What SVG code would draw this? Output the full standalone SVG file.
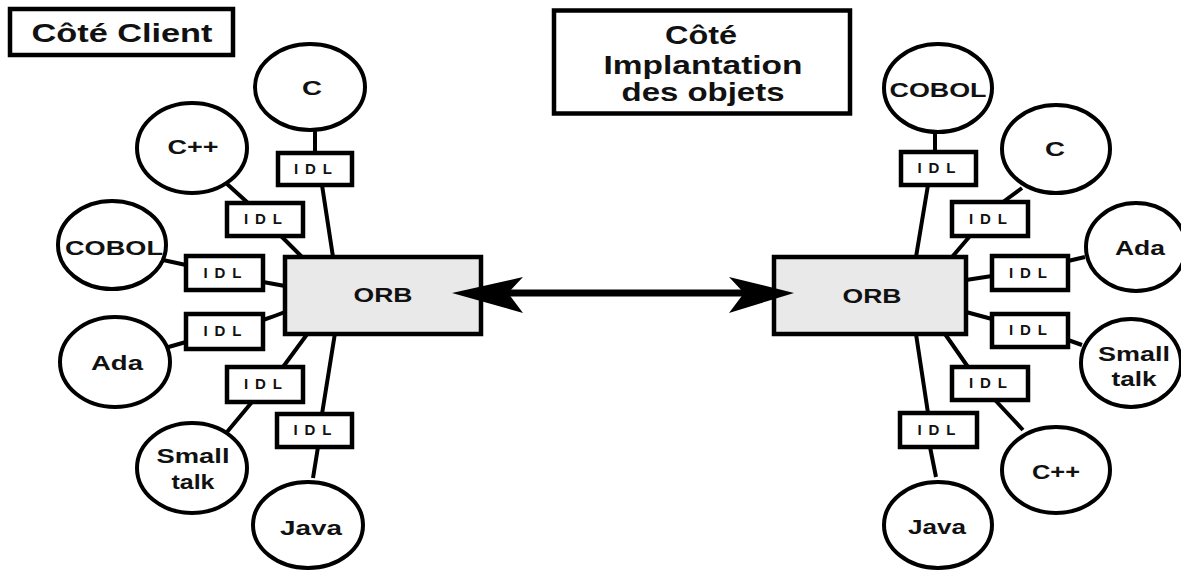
<svg xmlns="http://www.w3.org/2000/svg" width="1181" height="570" viewBox="0 0 1181 570">
<style>
.box{fill:#fff;stroke:#000;stroke-width:4.5}
.orb{fill:#e9e9e9;stroke:#000;stroke-width:4.5}
.el{fill:#fff;stroke:#000;stroke-width:4}
.ln{fill:none;stroke:#000;stroke-width:4;stroke-linecap:butt}
.t{font-family:"Liberation Sans",Arial,sans-serif;font-weight:bold;fill:#111;text-anchor:middle}
.title{font-size:25px}
.title2{font-size:26px}
.lab{font-size:21px}
.idl{font-size:15px;letter-spacing:4px}
.orbt{font-size:20px}
</style>
<g id="connectors">
<path class="ln" d="M315,128 L315,153 M322,185 L333,257"/>
<path class="ln" d="M226,183 L248,203 M281,236 L302,257"/>
<path class="ln" d="M163,260 L186,265 M263,282 L285,286"/>
<path class="ln" d="M165,348 L186,342 M263,320 Q275,316 285,312"/>
<path class="ln" d="M308,333 L283,367 M252,402 L227,432"/>
<path class="ln" d="M335,333 L322,414 M318,447 L313,478"/>
<path class="ln" d="M935,130 L935,152 M928,185 L916,257"/>
<path class="ln" d="M1022,188 L1003,202 M970,236 L952,257"/>
<path class="ln" d="M966,280 L992,276 M1068,261 L1085,257"/>
<path class="ln" d="M966,312 L992,319 M1068,340 L1082,345"/>
<path class="ln" d="M945,334 L968,367 M995,400 L1023,430"/>
<path class="ln" d="M916,334 L928,413 M930,447 L936,477"/>
</g>
<g id="title-client">
<rect class="box" x="10" y="9" width="223" height="46"/>
<text class="t title" x="122" y="42" textLength="181" lengthAdjust="spacingAndGlyphs">Côté Client</text>
</g>
<g id="title-impl">
<rect class="box" x="554" y="10.5" width="296" height="103"/>
<text class="t title2" x="701" y="44" textLength="72" lengthAdjust="spacingAndGlyphs">Côté</text>
<text class="t title2" x="703" y="74" textLength="199" lengthAdjust="spacingAndGlyphs">Implantation</text>
<text class="t title2" x="703" y="101" textLength="163" lengthAdjust="spacingAndGlyphs">des objets</text>
</g>
<g id="orb-left">
<rect class="orb" x="285" y="257" width="196" height="77"/>
<text class="t orbt" x="383" y="302" textLength="59" lengthAdjust="spacingAndGlyphs">ORB</text>
</g>
<g id="orb-right">
<rect class="orb" x="774" y="257" width="192" height="77"/>
<text class="t orbt" x="872" y="303" textLength="59" lengthAdjust="spacingAndGlyphs">ORB</text>
</g>
<g id="arrow">
<line x1="500" y1="293" x2="755" y2="293" stroke="#000" stroke-width="7"/>
<path d="M452,293 L523,277 L508,293 L523,313 Z" fill="#000"/>
<path d="M794,293 L729,277 L744,293 L729,313 Z" fill="#000"/>
</g>
<g id="l-c"><ellipse class="el" cx="310" cy="87" rx="55" ry="43"/><text class="t lab" x="312" y="95" textLength="20" lengthAdjust="spacingAndGlyphs">C</text></g>
<g id="l-cpp"><ellipse class="el" cx="192" cy="148" rx="55" ry="45"/><text class="t lab" x="193" y="154" textLength="51" lengthAdjust="spacingAndGlyphs">C++</text></g>
<g id="l-cobol"><ellipse class="el" cx="112" cy="245" rx="54" ry="44"/><text class="t lab" x="114" y="255" textLength="98" lengthAdjust="spacingAndGlyphs">COBOL</text></g>
<g id="l-ada"><ellipse class="el" cx="115" cy="362" rx="55" ry="45"/><text class="t lab" x="117" y="370" textLength="52" lengthAdjust="spacingAndGlyphs">Ada</text></g>
<g id="l-small"><ellipse class="el" cx="192" cy="468" rx="55" ry="45"/><text class="t lab" x="193" y="463" textLength="73" lengthAdjust="spacingAndGlyphs">Small</text><text class="t lab" x="193" y="489" textLength="43" lengthAdjust="spacingAndGlyphs">talk</text></g>
<g id="l-java"><ellipse class="el" cx="308" cy="525" rx="55" ry="43"/><text class="t lab" x="311" y="535" textLength="62" lengthAdjust="spacingAndGlyphs">Java</text></g>
<g id="r-cobol"><ellipse class="el" cx="938" cy="88" rx="54" ry="44"/><text class="t lab" x="938" y="97" textLength="97" lengthAdjust="spacingAndGlyphs">COBOL</text></g>
<g id="r-c"><ellipse class="el" cx="1056" cy="149" rx="54" ry="44"/><text class="t lab" x="1055" y="156" textLength="20" lengthAdjust="spacingAndGlyphs">C</text></g>
<g id="r-ada"><ellipse class="el" cx="1136" cy="247" rx="50" ry="44"/><text class="t lab" x="1140" y="255" textLength="50" lengthAdjust="spacingAndGlyphs">Ada</text></g>
<g id="r-small"><ellipse class="el" cx="1131" cy="363" rx="50" ry="44"/><text class="t lab" x="1134" y="361" textLength="72" lengthAdjust="spacingAndGlyphs">Small</text><text class="t lab" x="1134" y="386" textLength="45" lengthAdjust="spacingAndGlyphs">talk</text></g>
<g id="r-cpp"><ellipse class="el" cx="1056" cy="470" rx="54" ry="43"/><text class="t lab" x="1056" y="479" textLength="48" lengthAdjust="spacingAndGlyphs">C++</text></g>
<g id="r-java"><ellipse class="el" cx="938" cy="525" rx="54" ry="43"/><text class="t lab" x="937" y="534" textLength="58" lengthAdjust="spacingAndGlyphs">Java</text></g>
<g id="idl-l-c"><rect class="box" x="278" y="153" width="74" height="32"/><text class="t idl" x="315" y="174" textLength="42" lengthAdjust="spacing">IDL</text></g>
<g id="idl-l-cpp"><rect class="box" x="227" y="203" width="76" height="33"/><text class="t idl" x="265" y="224" textLength="42" lengthAdjust="spacing">IDL</text></g>
<g id="idl-l-cobol"><rect class="box" x="186" y="256" width="77" height="34"/><text class="t idl" x="224.5" y="278" textLength="42" lengthAdjust="spacing">IDL</text></g>
<g id="idl-l-ada"><rect class="box" x="186" y="314" width="77" height="35"/><text class="t idl" x="224.5" y="336" textLength="42" lengthAdjust="spacing">IDL</text></g>
<g id="idl-l-small"><rect class="box" x="227" y="367" width="76" height="35"/><text class="t idl" x="265" y="389" textLength="42" lengthAdjust="spacing">IDL</text></g>
<g id="idl-l-java"><rect class="box" x="277" y="414" width="75" height="33"/><text class="t idl" x="314.5" y="435" textLength="42" lengthAdjust="spacing">IDL</text></g>
<g id="idl-r-cobol"><rect class="box" x="901" y="152" width="75" height="33"/><text class="t idl" x="938.5" y="173" textLength="42" lengthAdjust="spacing">IDL</text></g>
<g id="idl-r-c"><rect class="box" x="952" y="202" width="76" height="34"/><text class="t idl" x="990" y="224" textLength="42" lengthAdjust="spacing">IDL</text></g>
<g id="idl-r-ada"><rect class="box" x="992" y="256" width="76" height="34"/><text class="t idl" x="1030" y="278" textLength="42" lengthAdjust="spacing">IDL</text></g>
<g id="idl-r-small"><rect class="box" x="992" y="314" width="76" height="33"/><text class="t idl" x="1030" y="335" textLength="42" lengthAdjust="spacing">IDL</text></g>
<g id="idl-r-cpp"><rect class="box" x="952" y="367" width="76" height="33"/><text class="t idl" x="990" y="388" textLength="42" lengthAdjust="spacing">IDL</text></g>
<g id="idl-r-java"><rect class="box" x="900" y="413" width="77" height="34"/><text class="t idl" x="938.5" y="435" textLength="42" lengthAdjust="spacing">IDL</text></g>
</svg>
